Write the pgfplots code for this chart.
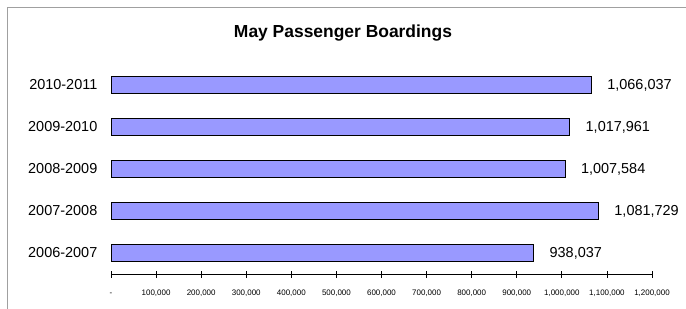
\documentclass[border=0pt]{standalone}
\usepackage{pgfplots}
\pgfplotsset{compat=1.18}
\usepackage{fontspec}
\setmainfont{Liberation Sans}
\definecolor{barfill}{RGB}{153,153,255}
\definecolor{framegray}{RGB}{160,160,160}
\begin{document}
\begin{tikzpicture}
\path[use as bounding box] (0bp,0bp) rectangle (686bp,-309bp);
\draw[framegray, line width=1bp] (7bp,-309bp) -- (7bp,-7bp) -- (686bp,-7bp);
\node[font=\fontsize{17.5}{20}\selectfont\bfseries] at (343bp,-33bp) {May Passenger Boardings};
\begin{axis}[
  at={(111bp,-274bp)}, anchor=south west,
  scale only axis, width=541bp, height=210bp,
  xbar, bar width=17bp,
  xmin=0, xmax=1200000, ymin=-0.5, ymax=4.5,
  axis x line*=bottom, axis y line*=left,
  y axis line style={draw=none},
  x axis line style={line width=1bp},
  xtick={0,100000,...,1200000},
  xticklabels={-,{100,000},{200,000},{300,000},{400,000},{500,000},{600,000},{700,000},{800,000},{900,000},{1,000,000},{1,100,000},{1,200,000}},
  xticklabel style={font=\fontsize{8}{9}\selectfont, anchor=base, inner sep=0pt, yshift=-18bp},
  tick align=center, major tick length=7bp,
  xtick style={black, line width=0.8bp},
  ytick={0,1,2,3,4},
  yticklabels={2006-2007,2007-2008,2008-2009,2009-2010,2010-2011},
  yticklabel style={font=\fontsize{14.5}{16}\selectfont, inner sep=0pt, xshift=-10bp},
  ytick style={draw=none},
  clip=false,
  /pgf/number format/assume math mode=true,
  nodes near coords,
  nodes near coords style={font=\fontsize{14.5}{16}\selectfont, anchor=west, xshift=12bp,
     /pgf/number format/.cd, fixed, precision=0, 1000 sep={,}},
]
\addplot[fill=barfill, draw=black, line width=0.9bp] coordinates {
  (938037,0) (1081729,1) (1007584,2) (1017961,3) (1066037,4)
};
\end{axis}
\end{tikzpicture}
\end{document}
